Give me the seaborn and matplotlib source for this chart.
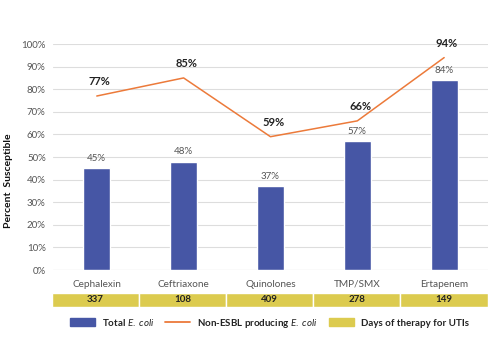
import matplotlib
matplotlib.use("Agg")
import matplotlib.pyplot as plt
import seaborn as sns
import pandas as pd
from matplotlib.patches import Patch
from matplotlib.lines import Line2D

categories = ["Cephalexin", "Ceftriaxone", "Quinolones", "TMP/SMX", "Ertapenem"]
total_ecoli = [45, 48, 37, 57, 84]
non_esbl = [77, 85, 59, 66, 94]
days_therapy = [337, 108, 409, 278, 149]
yticks = [0, 10, 20, 30, 40, 50, 60, 70, 80, 90, 100]

sns.set_theme(style="white")
plt.rcParams['font.family'] = ['Lato', 'DejaVu Sans']
plt.rcParams['mathtext.fontset'] = 'custom'
plt.rcParams['mathtext.it'] = 'Lato:italic'
plt.rcParams['mathtext.rm'] = 'Lato'

BLUE = "#4656A5"
ORANGE = "#EC7A3A"
YELLOW = "#DCCB4F"

df = pd.DataFrame({"cat": categories, "total": total_ecoli, "nonesbl": non_esbl})

fig = plt.figure(figsize=(4.94, 3.44), dpi=100)
ax = fig.add_axes([0.108, 0.215, 0.879, 0.657])

sns.barplot(data=df, x="cat", y="total", color=BLUE, width=0.31, ax=ax, zorder=3, saturation=1)
ax.plot(range(len(categories)), non_esbl, color=ORANGE, lw=1.1, zorder=4)

for i, v in enumerate(total_ecoli):
    ax.annotate(f"{v}%", (i, v), xytext=(0, 4), textcoords="offset points",
                ha="center", va="bottom", fontsize=7, color="#555555")
for i, v in enumerate(non_esbl):
    ax.annotate(f"{v}%", (i, v), xytext=(2, 6.5), textcoords="offset points",
                ha="center", va="bottom", fontsize=8, fontweight="bold", color="#222222")

ax.set_ylim(0, 100)
ax.set_xlim(-0.5, len(categories) - 0.5)
ax.set_yticks(yticks)
ax.set_yticklabels([f"{t}%" for t in yticks], fontsize=7, color="#555555")
ax.tick_params(axis="x", labelsize=7.2, colors="#555555", length=0, pad=7)
ax.tick_params(axis="y", length=0, pad=5.5)
ax.set_xlabel("")
ax.set_ylabel("Percent  Susceptible", fontsize=7.5, fontweight="bold", color="#111111")
ax.yaxis.set_label_coords(-0.094, 0.394)
ax.yaxis.grid(True, color="#DDDDDD", lw=0.8, zorder=0)
for s in ax.spines.values():
    s.set_visible(False)
ax.axhline(0, color="#D0D0D0", lw=0.8, zorder=2)

# table row
tax = fig.add_axes([0.105, 0.1076, 0.882, 0.0407])
tax.bar(range(len(categories)), [1] * len(categories), width=1.0, color=YELLOW,
        edgecolor="white", linewidth=1.0)
for i, d in enumerate(days_therapy):
    tax.text(i, 0.5, str(d), ha="center", va="center", fontsize=7, fontweight="bold", color="#222222")
tax.set_xlim(-0.5, len(categories) - 0.5)
tax.set_ylim(0, 1)
tax.axis("off")

handles = [Patch(color=BLUE), Line2D([0], [0], color=ORANGE, lw=1.3), Patch(color=YELLOW)]
labels = [r"Total$\ \it{E.\ coli}$", r"Non-ESBL producing$\ \it{E.\ coli}$", "Days of therapy for UTIs"]
leg = fig.legend(handles, labels, loc="center", bbox_to_anchor=(0.545, 0.061), ncol=3, frameon=False,
                 fontsize=7, handlelength=2.6, handleheight=0.9, columnspacing=1.1, handletextpad=0.7)
for t in leg.get_texts():
    t.set_fontweight("bold")
    t.set_color("#222222")

fig.savefig("out.png", dpi=100)
